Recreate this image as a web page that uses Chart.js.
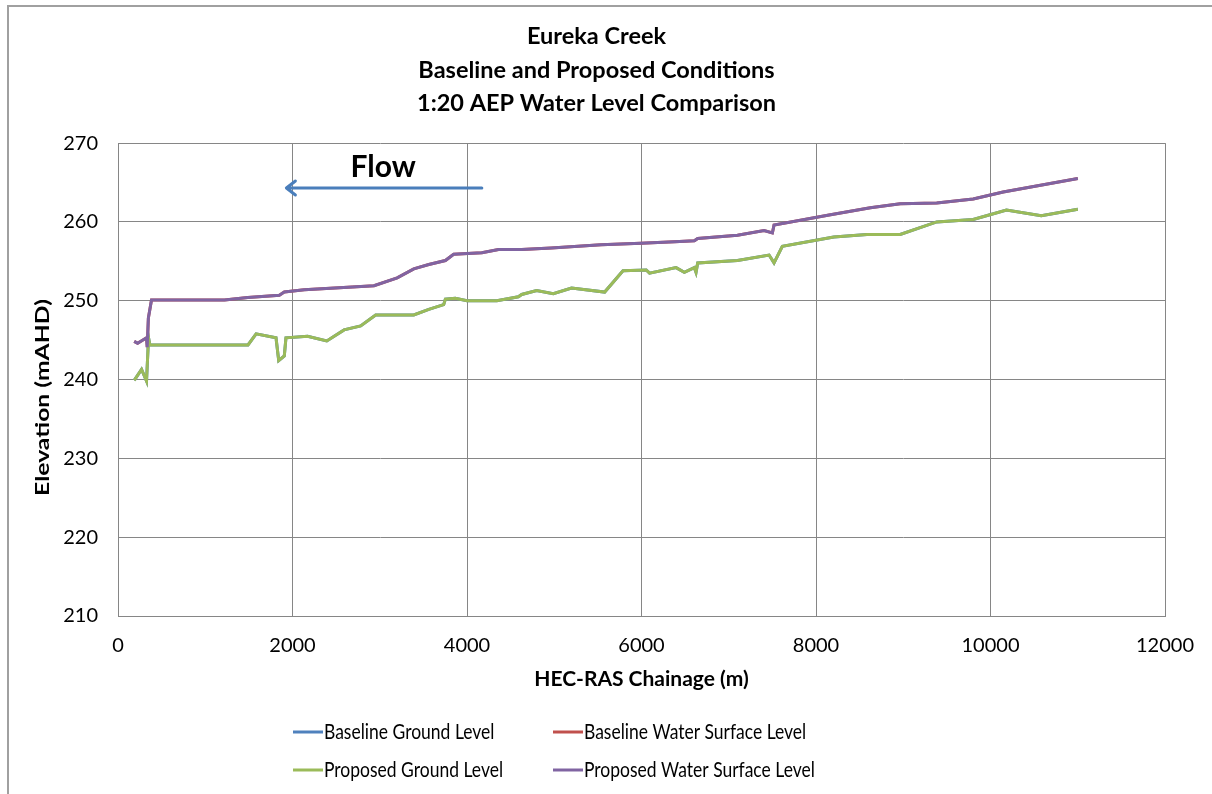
<!DOCTYPE html>
<html>
<head>
<meta charset="utf-8">
<script src="https://cdn.jsdelivr.net/npm/chart.js@4/dist/chart.umd.min.js"></script>
<style>
  html, body { margin: 0; padding: 0; background: #fff; }
  #wrap { width: 1212px; height: 794px; position: relative; }
</style>
</head>
<body>
<div id="wrap"><canvas id="levelChart" width="1212" height="794"></canvas></div>
<script>
const groundChainage = [186, 270, 327, 350, 365, 1490, 1583, 1811, 1842, 1906, 1925, 2173, 2393, 2591, 2781, 2953, 3390, 3562, 3733, 3752, 3866, 4000, 4342, 4589, 4627, 4798, 4989, 5198, 5578, 5788, 6054, 6092, 6396, 6491, 6606, 6625, 6644, 7100, 7462, 7519, 7614, 8204, 8584, 8965, 9384, 9802, 10183, 10582, 11001];
const proposedGround = [239.9, 241.3, 239.8, 245.3, 244.4, 244.4, 245.8, 245.3, 242.4, 243.0, 245.3, 245.5, 244.9, 246.3, 246.8, 248.2, 248.2, 248.9, 249.5, 250.2, 250.3, 250.0, 250.0, 250.5, 250.8, 251.3, 250.9, 251.6, 251.1, 253.8, 253.9, 253.5, 254.2, 253.6, 254.2, 253.6, 254.8, 255.1, 255.8, 254.8, 256.9, 258.1, 258.4, 258.4, 260.0, 260.3, 261.5, 260.8, 261.6];
const baselineGround = [239.9, 241.3, 239.8, 245.3, 244.4, 244.4, 245.8, 245.3, 242.4, 243.0, 245.3, 245.5, 244.9, 246.3, 246.8, 248.2, 248.2, 248.9, 249.5, 250.2, 250.3, 250.0, 250.0, 250.5, 250.8, 251.3, 250.9, 251.6, 251.1, 253.8, 253.9, 253.5, 254.2, 253.6, 254.2, 253.6, 254.8, 255.1, 255.8, 254.8, 256.9, 258.1, 258.4, 258.4, 260.0, 260.3, 261.5, 260.8, 261.6];

const wslChainage = [186, 225, 327, 335, 348, 384, 1221, 1488, 1849, 1906, 2135, 2934, 3200, 3390, 3562, 3752, 3847, 4170, 4361, 4627, 4966, 5537, 5993, 6378, 6606, 6644, 7100, 7405, 7500, 7519, 8166, 8623, 8965, 9384, 9802, 10145, 11001];
const proposedWSL = [244.85, 244.6, 245.3, 244.1, 247.8, 250.1, 250.1, 250.4, 250.7, 251.1, 251.4, 251.9, 252.9, 254.05, 254.6, 255.1, 255.9, 256.1, 256.5, 256.5, 256.7, 257.1, 257.3, 257.5, 257.6, 257.9, 258.3, 258.9, 258.6, 259.6, 260.9, 261.8, 262.3, 262.4, 262.9, 263.8, 265.5];
const baselineWSL = [244.85, 244.6, 245.3, 244.1, 247.8, 250.1, 250.1, 250.4, 250.7, 251.1, 251.4, 251.9, 252.9, 254.05, 254.6, 255.1, 255.9, 256.1, 256.5, 256.5, 256.7, 257.1, 257.3, 257.5, 257.6, 257.9, 258.3, 258.9, 258.6, 259.6, 260.9, 261.8, 262.3, 262.4, 262.9, 263.8, 265.5];

const seriesLabels = ['Baseline Ground Level', 'Baseline Water Surface Level', 'Proposed Ground Level', 'Proposed Water Surface Level'];
const seriesColors = ['#4F81BD', '#C0504D', '#9BBB59', '#8064A2'];

const yTitle = 'Elevation (mAHD)';

// flow arrow, in chart units
const flowArrow = { x0: 4170, x1: 1930, y: 264.3 };
const flowLabel = { x: 3040, y: 266.9, text: 'Flow' };

const FONT = "Lato, 'Open Sans', sans-serif";

function toPoints(xs, ys) {
  return xs.map((x, i) => ({ x: x, y: ys[i] }));
}

// page frame, y title, flow arrow and the two-column legend
const extras = {
  id: 'extras',
  beforeDraw(chart) {
    const ctx = chart.ctx;
    ctx.save();
    ctx.strokeStyle = '#a0a0a0';
    ctx.lineWidth = 2;
    ctx.beginPath();
    ctx.moveTo(8, 794);
    ctx.lineTo(8, 6);
    ctx.lineTo(1212, 6);
    ctx.stroke();
    ctx.restore();
  },
  afterDraw(chart) {
    const ctx = chart.ctx;
    const xs = chart.scales.x, ys = chart.scales.y;
    const area = chart.chartArea;

    // y axis title (the source is stretched along its length)
    ctx.save();
    ctx.translate(43, (area.top + area.bottom) / 2 + 18);
    ctx.rotate(-Math.PI / 2);
    ctx.scale(1.3, 1);
    ctx.fillStyle = '#000';
    ctx.font = 'bold 19px ' + FONT;
    ctx.textAlign = 'center';
    ctx.textBaseline = 'middle';
    ctx.fillText(yTitle, 0, 0);
    ctx.restore();

    // Flow arrow
    const ax0 = xs.getPixelForValue(flowArrow.x0);
    const ax1 = xs.getPixelForValue(flowArrow.x1);
    const ay = ys.getPixelForValue(flowArrow.y);
    ctx.save();
    ctx.strokeStyle = '#4A7EBB';
    ctx.lineWidth = 3;
    ctx.lineCap = 'round';
    ctx.lineJoin = 'round';
    ctx.beginPath();
    ctx.moveTo(ax0, ay);
    ctx.lineTo(ax1, ay);
    ctx.moveTo(ax1 + 9, ay - 7);
    ctx.lineTo(ax1, ay);
    ctx.lineTo(ax1 + 9, ay + 7);
    ctx.stroke();

    ctx.fillStyle = '#000';
    ctx.font = 'bold 30px ' + FONT;
    ctx.textAlign = 'center';
    ctx.textBaseline = 'middle';
    ctx.fillText(flowLabel.text, xs.getPixelForValue(flowLabel.x), ys.getPixelForValue(flowLabel.y));

    // legend, 2 x 2
    const cols = [293, 553];
    const rows = [732, 770];
    ctx.font = '17.5px ' + FONT;
    ctx.textAlign = 'left';
    chart.data.datasets.forEach((ds, i) => {
      const lx = cols[i % 2], ly = rows[Math.floor(i / 2)];
      ctx.strokeStyle = ds.borderColor;
      ctx.lineWidth = 3;
      ctx.lineCap = 'butt';
      ctx.beginPath();
      ctx.moveTo(lx, ly);
      ctx.lineTo(lx + 30, ly);
      ctx.stroke();
      ctx.save();
      ctx.translate(lx + 31, ly);
      ctx.scale(1, 1.2);
      ctx.fillStyle = '#000';
      ctx.fillText(ds.label, 0, 0);
      ctx.restore();
    });
    ctx.restore();
  }
};

const ctx = document.getElementById('levelChart');
new Chart(ctx, {
  type: 'line',
  data: {
    datasets: [
      { label: seriesLabels[0], data: toPoints(groundChainage, baselineGround), borderColor: seriesColors[0], order: 4 },
      { label: seriesLabels[1], data: toPoints(wslChainage, baselineWSL), borderColor: seriesColors[1], order: 3 },
      { label: seriesLabels[2], data: toPoints(groundChainage, proposedGround), borderColor: seriesColors[2], order: 2 },
      { label: seriesLabels[3], data: toPoints(wslChainage, proposedWSL), borderColor: seriesColors[3], order: 1 }
    ]
  },
  options: {
    responsive: false,
    animation: false,
    elements: {
      line: { borderWidth: 3, tension: 0, fill: false },
      point: { radius: 0, hoverRadius: 0 }
    },
    layout: { padding: { top: 8, left: 20, right: 39, bottom: 98 } },
    plugins: {
      legend: { display: false },
      tooltip: { enabled: false },
      title: {
        display: true,
        text: ['Eureka Creek', 'Baseline and Proposed Conditions', '1:20 AEP Water Level Comparison'],
        color: '#000',
        font: { family: FONT, size: 23.5, weight: 'bold', lineHeight: 1.42 },
        padding: { top: 12, bottom: 23 }
      }
    },
    scales: {
      x: {
        type: 'linear',
        min: 0,
        max: 12000,
        ticks: { stepSize: 2000, color: '#000', padding: 18, maxRotation: 0, font: { family: FONT, size: 20 }, callback: v => String(v) },
        grid: { color: '#868686', lineWidth: 1, drawTicks: false },
        border: { display: true, color: '#868686' },
        title: {
          display: true,
          text: 'HEC-RAS Chainage (m)',
          color: '#000',
          font: { family: FONT, size: 21, weight: 'bold', lineHeight: 1.2 },
          padding: { top: 0, bottom: 4 }
        },
        afterFit(scale) { scale.height = 80; }
      },
      y: {
        min: 210,
        max: 270,
        ticks: { stepSize: 10, color: '#000', padding: 20, font: { family: FONT, size: 20 } },
        grid: { color: '#868686', lineWidth: 1, drawTicks: false },
        border: { display: true, color: '#868686' },
        afterFit(scale) { scale.width = 98; }
      }
    }
  },
  plugins: [extras]
});
</script>
</body>
</html>
